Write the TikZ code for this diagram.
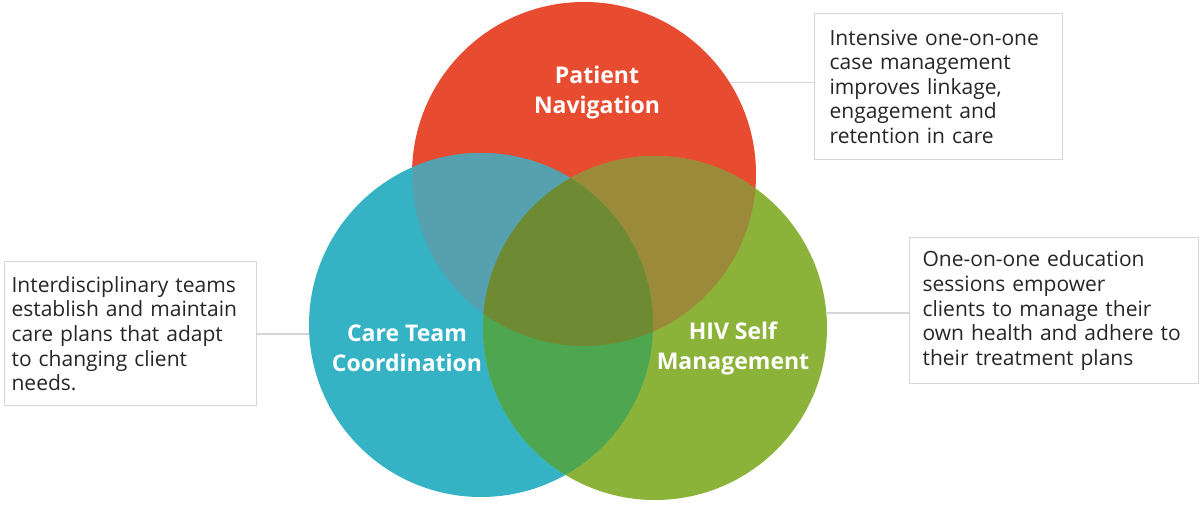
\documentclass[tikz,border=0pt]{standalone}
\usepackage{fontspec}
\setmainfont{Open Sans}
\usetikzlibrary{positioning,calc}
\definecolor{navred}{HTML}{E84C30}
\definecolor{careblue}{HTML}{35B3C5}
\definecolor{selfgreen}{HTML}{8BB33A}
\definecolor{navcare}{HTML}{56A0B0}
\definecolor{navself}{HTML}{9A8A3A}
\definecolor{careself}{HTML}{4EA650}
\definecolor{allthree}{HTML}{6E8A32}
\definecolor{boxline}{HTML}{D6D6D6}
\tikzset{
  ring/.style={circle,minimum size=344pt,inner sep=0pt,outer sep=0pt},
  circlbl/.style={align=center,text=white,font=\bfseries\fontsize{23}{30}\selectfont},
  infobox/.style={draw=boxline,line width=1.2pt,align=left,anchor=north west,
    text=black!85,font=\fontsize{21}{24.6}\selectfont,inner ysep=4pt},
  link/.style={draw=boxline,line width=1.2pt},
}
\begin{document}
\begin{tikzpicture}[x=1pt,y=-1pt]
  \useasboundingbox (0,0) rectangle (1200,505);
  % the three circles
  \node[ring,fill=navred] (nav) at (584,174) {};
  \node[ring,fill=careblue] (care) at (481,325) {};
  \node[ring,fill=selfgreen] (self) at (655,328) {};
  % overlaps
  \begin{scope}
    \clip (nav.center) circle (172pt);
    \fill[navcare] (care.center) circle (172pt);
    \fill[navself] (self.center) circle (172pt);
  \end{scope}
  \begin{scope}
    \clip (care.center) circle (172pt);
    \fill[careself] (self.center) circle (172pt);
    \clip (nav.center) circle (172pt);
    \fill[allthree] (self.center) circle (172pt);
  \end{scope}
  % labels
  \node[circlbl] (navlbl) at (597,93) {Patient\\Navigation};
  \node[circlbl] (carelbl) at (407,348) {Care Team\\Coordination};
  \node[circlbl] (selflbl) at (733,348) {HIV Self\\Management};
  % boxes
  \node[infobox,inner xsep=7pt,text width=238pt,minimum height=144pt] (carebox) at (4,261)
    {Interdisciplinary teams\\establish and maintain\\care plans that adapt\\to changing client\\needs.};
  \node[infobox,inner xsep=15pt,text width=218pt,minimum height=146pt] (navbox) at (814,13)
    {Intensive one-on-one\\case management\\improves linkage,\\engagement and\\retention in care};
  \node[infobox,inner xsep=13pt,text width=263pt,minimum height=146pt] (selfbox) at (909,237)
    {One-on-one education\\sessions empower\\clients to manage their\\own health and adhere to\\their treatment plans};
  % connectors
  \draw[link] (care.183) -- (care.183 -| carebox.east);
  \draw[link] (nav.32) -- (nav.32 -| navbox.west);
  \draw[link] (self.5) -- (self.5 -| selfbox.west);
\end{tikzpicture}
\end{document}
